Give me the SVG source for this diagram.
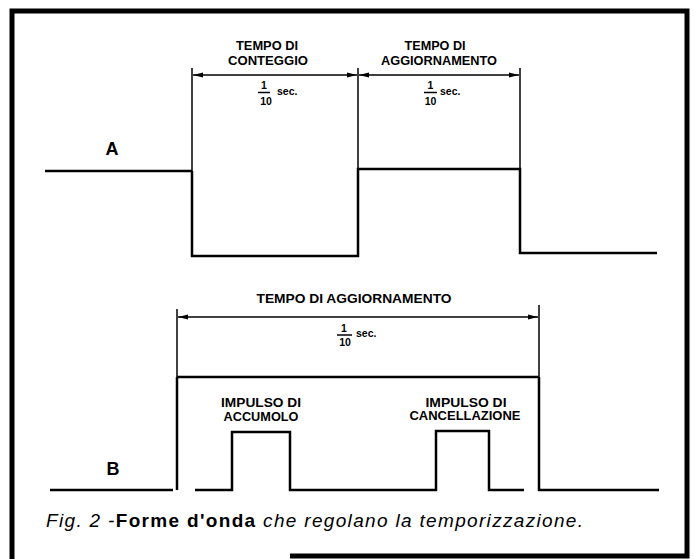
<svg xmlns="http://www.w3.org/2000/svg" width="694" height="559" viewBox="0 0 694 559">
<defs>
<marker id="ah" viewBox="0 0 10 6" refX="10" refY="3" markerWidth="10" markerHeight="6" markerUnits="userSpaceOnUse" orient="auto-start-reverse">
<path d="M0,0.5 L10,3 L0,5.5 Z" fill="#000"/>
</marker>
<style>
.lbl{font-family:"Liberation Sans",Arial,sans-serif;font-weight:bold;font-size:12.5px;fill:#000;text-anchor:middle}
.fr{font-family:"Liberation Sans",Arial,sans-serif;font-weight:bold;font-size:10.5px;fill:#000;text-anchor:middle}
.sec{font-family:"Liberation Sans",Arial,sans-serif;font-weight:bold;font-size:10.5px;fill:#000}
.big{font-family:"Liberation Sans",Arial,sans-serif;font-weight:bold;font-size:18px;fill:#000;text-anchor:middle}
.cap{font-family:"Liberation Sans",Arial,sans-serif;font-size:19px;fill:#000}
.wave{fill:none;stroke:#000;stroke-width:2.5}
.dim{fill:none;stroke:#000;stroke-width:1.5}
.tick{fill:none;stroke:#000;stroke-width:1.5}
.frame{fill:none;stroke:#000;stroke-width:5}
</style>
</defs>
<rect width="694" height="559" fill="#fff"/>
<g id="frame">
<path class="frame" d="M12,559 L12,11 L687,11 L687,556 L290,556"/>
</g>
<g id="waveA">
<text class="big" x="112" y="155">A</text>
<path class="wave" d="M45,171 L192,171"/>
<path class="tick" d="M192,68 L192,171"/>
<path class="wave" d="M192,171 L192,256 L358,256 L358,169 L520,169 L520,253 L657,253"/>
<path class="tick" d="M358,68 L358,169"/>
<path class="tick" d="M520,68 L520,169"/>
</g>
<g id="label-conteggio">
<text class="lbl" x="267" y="50" textLength="62" lengthAdjust="spacingAndGlyphs">TEMPO DI</text>
<text class="lbl" x="268" y="65" textLength="80" lengthAdjust="spacingAndGlyphs">CONTEGGIO</text>
<text class="fr" x="264" y="88.5">1</text>
<path class="dim" d="M258,92.5 L270,92.5"/>
<text class="fr" x="266" y="105">10</text>
<text class="sec" x="277" y="95">sec.</text>
</g>
<g id="label-aggiornamento-A">
<text class="lbl" x="435" y="50" textLength="61" lengthAdjust="spacingAndGlyphs">TEMPO DI</text>
<text class="lbl" x="439" y="65" textLength="116" lengthAdjust="spacingAndGlyphs">AGGIORNAMENTO</text>
<text class="fr" x="430.5" y="88.5">1</text>
<path class="dim" d="M424,92.5 L437,92.5"/>
<text class="fr" x="430.5" y="105">10</text>
<text class="sec" x="440" y="95">sec.</text>
</g>
<g id="waveB">
<text class="big" x="113" y="475">B</text>
<path class="wave" d="M50,490 L173,490"/>
<path class="tick" d="M177,309 L177,377"/>
<path class="wave" d="M177,377 L177,490"/>
<path class="wave" d="M177,377 L539,377"/>
<path class="tick" d="M539,305 L539,377"/>
<path class="wave" d="M539,377 L539,490 L659,490"/>
<path class="wave" d="M195,490 L232,490 L232,432 L290,432 L290,490 L436,490 L436,431 L489,431 L489,490 L524,490"/>
</g>
<g id="label-aggiornamento-B">
<text class="lbl" x="354" y="303" textLength="195" lengthAdjust="spacingAndGlyphs">TEMPO DI AGGIORNAMENTO</text>
<text class="fr" x="344" y="331.5">1</text>
<path class="dim" d="M337,335 L352,335"/>
<text class="fr" x="345" y="346">10</text>
<text class="sec" x="356" y="337">sec.</text>
</g>
<g id="label-accumolo">
<text class="lbl" x="261" y="407" textLength="80" lengthAdjust="spacingAndGlyphs">IMPULSO DI</text>
<text class="lbl" x="261" y="421" textLength="75" lengthAdjust="spacingAndGlyphs">ACCUMOLO</text>
</g>
<g id="label-cancellazione">
<text class="lbl" x="466" y="407" textLength="81" lengthAdjust="spacingAndGlyphs">IMPULSO DI</text>
<text class="lbl" x="465" y="420" textLength="111" lengthAdjust="spacingAndGlyphs">CANCELLAZIONE</text>
</g>
<g id="connectors">
<path class="dim" d="M193,75 L357,75" marker-start="url(#ah)" marker-end="url(#ah)"/>
<path class="dim" d="M359,75 L519,75" marker-start="url(#ah)" marker-end="url(#ah)"/>
<path class="dim" d="M178,317 L538,317" marker-start="url(#ah)" marker-end="url(#ah)"/>
</g>
<g id="caption">
<text class="cap" x="46" y="527" textLength="537" lengthAdjust="spacing"><tspan font-style="italic">Fig. 2 -</tspan><tspan font-weight="bold">Forme d'onda</tspan><tspan font-style="italic"> che regolano la temporizzazione.</tspan></text>
</g>
</svg>
